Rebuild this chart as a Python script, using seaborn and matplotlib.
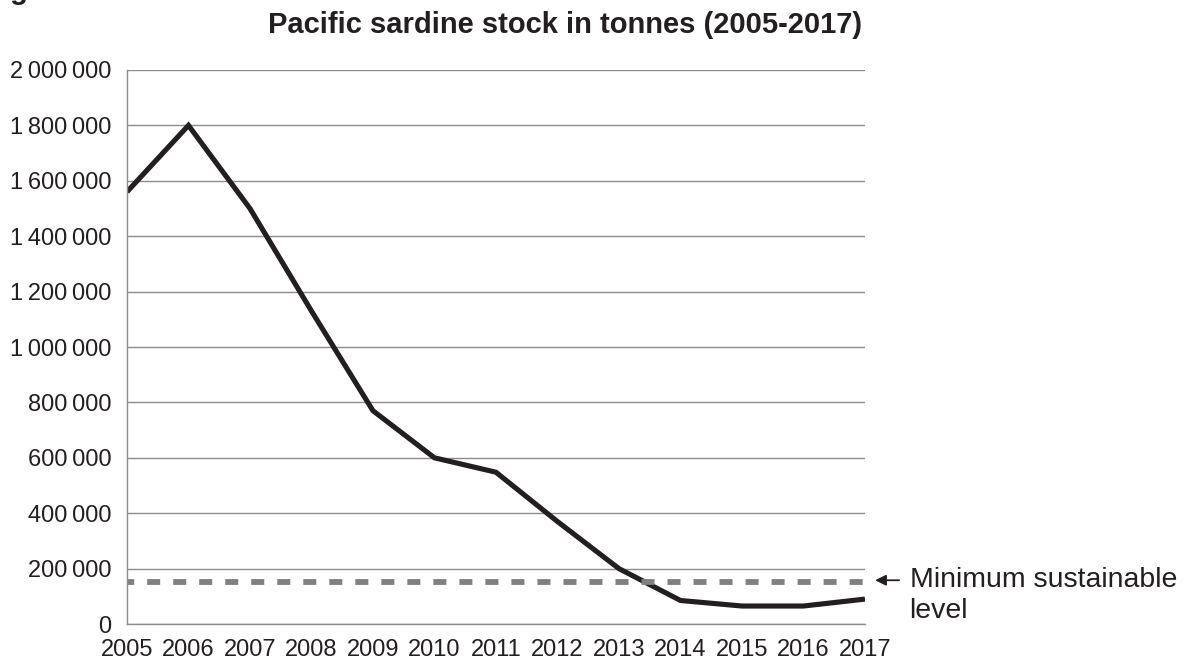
import seaborn as sns
import pandas as pd
import matplotlib.pyplot as plt
from matplotlib.ticker import FuncFormatter

# sardine stock (tonnes)
years = [2005, 2006, 2007, 2008, 2009, 2010, 2011, 2012, 2013, 2014, 2015, 2016, 2017]
stock = [1560000, 1800000, 1500000, 1130000, 770000, 600000, 548000, 370000,
         200000, 85000, 65000, 65000, 90000]
min_level = 150000

data = pd.DataFrame({"year": years, "stock": stock})

sns.set_style("white")
plt.rcParams["font.family"] = ["Liberation Sans", "DejaVu Sans"]

fig = plt.figure(figsize=(12, 6.64), dpi=100)
ax = fig.add_axes([0.1058, 0.0602, 0.615, 0.8344])

sns.lineplot(data=data, x="year", y="stock", ax=ax, color="#231f20",
             linewidth=3.7, solid_capstyle="butt", solid_joinstyle="miter")
ax.axhline(min_level, color="#808080", linewidth=4.2,
           linestyle=(1.0, (2.23, 2.23)))

ax.set_xlim(2005, 2017)
ax.set_ylim(0, 2000000)
ax.set_xticks(years)
ax.set_yticks(range(0, 2000001, 200000))
ax.yaxis.set_major_formatter(FuncFormatter(lambda v, p: f"{int(v):,}".replace(",", "\u2009")))
ax.grid(axis="y", color="#8c8c8c", linewidth=1)
ax.set_axisbelow(True)
ax.set_xlabel("")
ax.set_ylabel("")

for s in ["top", "right"]:
    ax.spines[s].set_visible(False)
for s in ["left", "bottom"]:
    ax.spines[s].set_color("#8c8c8c")
    ax.spines[s].set_linewidth(1)

ax.tick_params(axis="both", labelsize=17, labelcolor="#231f20", color="#8c8c8c",
               length=6, width=1, direction="out", pad=5)

fig.text(0.471, 0.950, "Pacific sardine stock in tonnes (2005-2017)", ha="center",
         va="baseline", fontsize=21, fontweight="bold", color="#231f20")
fig.text(-0.013, 1.0015, "Figure 3", ha="left", va="baseline", fontsize=21,
         fontweight="bold", color="#231f20")

ax.annotate("", xy=(2017.12, min_level + 8000), xytext=(2017.6, min_level + 8000),
            arrowprops=dict(arrowstyle="-|>", color="#231f20", lw=1.3,
                            mutation_scale=16), annotation_clip=False)
fig.text(0.758, 0.116, "Minimum sustainable", ha="left", va="baseline",
         fontsize=20.5, color="#231f20")
fig.text(0.758, 0.0693, "level", ha="left", va="baseline",
         fontsize=20.5, color="#231f20")

fig.savefig("out.png", dpi=100)
